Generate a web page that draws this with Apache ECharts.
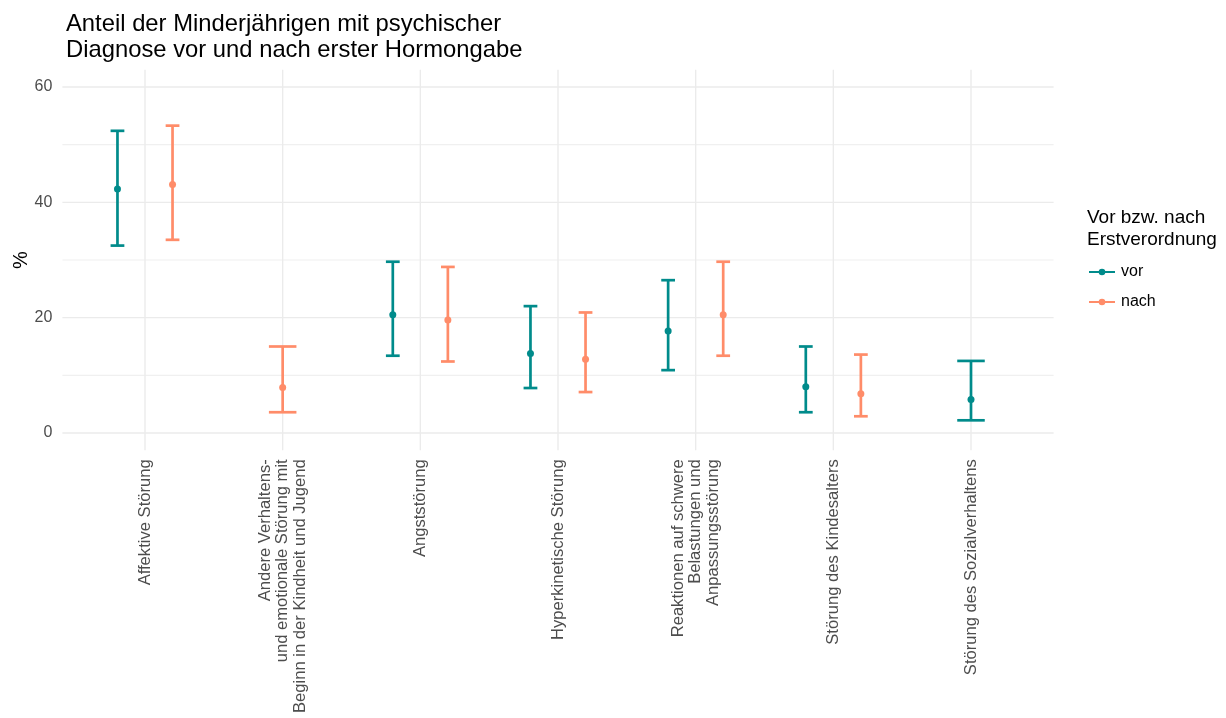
<!DOCTYPE html>
<html>
<head>
<meta charset="utf-8">
<script src="https://cdn.jsdelivr.net/npm/echarts@6/dist/echarts.min.js"></script>
<style>
  html, body { margin: 0; padding: 0; background: #fff; }
  #chart { width: 1226px; height: 718px; }
</style>
</head>
<body>
<div id="chart"></div>
<script>
// Diagnosis categories (x axis)
const categories = [
  'Affektive Störung',
  'Andere Verhaltens-\nund emotionale Störung mit\nBeginn in der Kindheit und Jugend',
  'Angststörung',
  'Hyperkinetische Störung',
  'Reaktionen auf schwere\nBelastungen und\nAnpassungsstörung',
  'Störung des Kindesalters',
  'Störung des Sozialverhaltens'
];

// Share in % before first prescription (estimate, lower and upper bound)
const vorValue = [42.3, null, 20.5, 13.8, 17.7, 8.0, 5.8];
const vorLower = [32.5, null, 13.4, 7.8, 10.9, 3.6, 2.2];
const vorUpper = [52.4, null, 29.7, 22.0, 26.5, 15.0, 12.5];

// Share in % after first prescription
const nachValue = [43.1, 7.9, 19.6, 12.8, 20.5, 6.8, null];
const nachLower = [33.5, 3.6, 12.4, 7.1, 13.4, 2.9, null];
const nachUpper = [53.3, 15.0, 28.8, 20.9, 29.7, 13.6, null];

// Axis ticks
const yTickLabels = [0, 20, 40, 60];
const yGridMajor = [0, 20, 40, 60];
const yGridMinor = [10, 30, 50];

const TEAL = '#008B8B';
const SALMON = '#FF8C69';
const FONT = 'Liberation Sans, Arial, sans-serif';

// Dodge: when both groups exist in a category they sit side by side,
// otherwise the single group takes the full width at the category centre.
function buildGroup(values, lower, upper, other, side) {
  const out = [];
  values.forEach((v, i) => {
    if (v == null) return;
    const paired = other[i] != null;
    const x = i + 1 + (paired ? side * 0.2 : 0);
    const halfCap = paired ? 0.05 : 0.1;
    out.push([x, lower[i], v, upper[i], halfCap]);
  });
  return out;
}

const vorData = buildGroup(vorValue, vorLower, vorUpper, nachValue, -1);
const nachData = buildGroup(nachValue, nachLower, nachUpper, vorValue, 1);

function renderErrorPoint(params, api) {
  const x = api.value(0);
  const lo = api.value(1);
  const mid = api.value(2);
  const hi = api.value(3);
  const hw = api.value(4);
  const color = api.visual('color');
  const pLo = api.coord([x, lo]);
  const pHi = api.coord([x, hi]);
  const pMid = api.coord([x, mid]);
  const left = api.coord([x - hw, lo])[0];
  const right = api.coord([x + hw, lo])[0];
  const lw = 2.7;
  return {
    type: 'group',
    children: [
      { type: 'line', shape: { x1: pLo[0], y1: pLo[1], x2: pHi[0], y2: pHi[1] }, style: { stroke: color, lineWidth: lw } },
      { type: 'line', shape: { x1: left, y1: pLo[1], x2: right, y2: pLo[1] }, style: { stroke: color, lineWidth: lw } },
      { type: 'line', shape: { x1: left, y1: pHi[1], x2: right, y2: pHi[1] }, style: { stroke: color, lineWidth: lw } },
      { type: 'circle', shape: { cx: pMid[0], cy: pMid[1], r: 3.5 }, style: { fill: color } }
    ]
  };
}

// Panel grid lines drawn through the axis scales
function renderHGrid(params, api) {
  const y = api.coord([1, api.value(0)])[1];
  const cs = params.coordSys;
  const major = api.value(1) === 1;
  return {
    type: 'line',
    shape: { x1: cs.x, y1: y, x2: cs.x + cs.width, y2: y },
    style: { stroke: major ? '#ebebeb' : '#f0f0f0', lineWidth: major ? 1.4 : 1.1 }
  };
}
function renderVGrid(params, api) {
  const x = api.coord([api.value(0), 0])[0];
  const cs = params.coordSys;
  return {
    type: 'line',
    shape: { x1: x, y1: cs.y, x2: x, y2: cs.y + cs.height },
    style: { stroke: '#ebebeb', lineWidth: 1.4 }
  };
}

const hGridData = yGridMajor.map(v => [v, 1]).concat(yGridMinor.map(v => [v, 0]));
const vGridData = categories.map((c, i) => [i + 1]);

const legendIcon = 'path://M0,2.3h26v2h-26z M9.7,3.3a3.3,3.3 0 1,1 6.6,0a3.3,3.3 0 1,1 -6.6,0z';

const chart = echarts.init(document.getElementById('chart'), null, { renderer: 'canvas' });
chart.setOption({
  animation: false,
  backgroundColor: '#ffffff',
  color: [TEAL, SALMON],
  textStyle: { fontFamily: FONT },
  title: [
    {
      text: 'Anteil der Minderjährigen mit psychischer\nDiagnose vor und nach erster Hormongabe',
      left: 61,
      top: 6,
      textStyle: { fontFamily: FONT, fontSize: 23.8, fontWeight: 'normal', color: '#000', lineHeight: 26 }
    },
    {
      text: 'Vor bzw. nach\nErstverordnung',
      left: 1082,
      top: 202,
      textStyle: { fontFamily: FONT, fontSize: 19, fontWeight: 'normal', color: '#000', lineHeight: 22 }
    }
  ],
  legend: {
    orient: 'vertical',
    left: 1084,
    top: 258,
    itemWidth: 26,
    itemHeight: 6.6,
    itemGap: 12,
    textStyle: { fontFamily: FONT, fontSize: 16, color: '#000', lineHeight: 18, padding: [0, 0, 0, 1] },
    data: [
      { name: 'vor', icon: legendIcon },
      { name: 'nach', icon: legendIcon }
    ]
  },
  grid: {
    left: 62.4,
    right: 172.4,
    top: 69.7,
    bottom: 267.7,
    containLabel: false,
    outerBoundsMode: 'none'
  },
  xAxis: {
    type: 'value',
    min: 0.4,
    max: 7.6,
    axisLine: { show: false },
    axisTick: { show: false },
    splitLine: { show: false },
    axisLabel: {
      customValues: categories.map((c, i) => i + 1),
      formatter: v => categories[Math.round(v) - 1],
      rotate: 90,
      margin: 9,
      fontFamily: FONT,
      fontSize: 16.6,
      lineHeight: 17.5,
      color: '#4d4d4d'
    }
  },
  yAxis: {
    type: 'value',
    min: -3,
    max: 63,
    name: '%',
    nameLocation: 'middle',
    nameRotate: 90,
    nameGap: 31,
    nameMoveOverlap: false,
    nameTextStyle: { fontFamily: FONT, fontSize: 20, color: '#000' },
    axisLine: { show: false },
    axisTick: { show: false },
    splitLine: { show: false },
    axisLabel: {
      customValues: yTickLabels,
      margin: 10,
      fontFamily: FONT,
      fontSize: 16,
      color: '#4d4d4d'
    }
  },
  series: [
    { type: 'custom', name: 'hgrid', silent: true, z: 0, renderItem: renderHGrid, data: hGridData, itemStyle: { color: '#ebebeb' } },
    { type: 'custom', name: 'vgrid', silent: true, z: 0, renderItem: renderVGrid, data: vGridData, itemStyle: { color: '#ebebeb' } },
    { type: 'custom', name: 'vor', z: 2, renderItem: renderErrorPoint, data: vorData, itemStyle: { color: TEAL }, encode: { x: [0], y: [1, 2, 3] } },
    { type: 'custom', name: 'nach', z: 2, renderItem: renderErrorPoint, data: nachData, itemStyle: { color: SALMON }, encode: { x: [0], y: [1, 2, 3] } }
  ]
});
</script>
</body>
</html>
